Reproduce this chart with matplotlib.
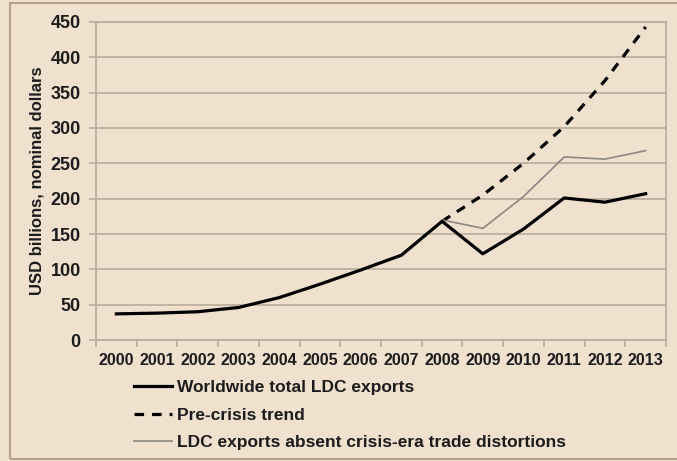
import matplotlib
matplotlib.use("Agg")
import matplotlib.pyplot as plt
from matplotlib.patches import Rectangle

plt.rcParams['font.family'] = ['Liberation Sans', 'DejaVu Sans']
plt.rcParams['font.weight'] = 'bold'

years = ['2000', '2001', '2002', '2003', '2004', '2005', '2006',
         '2007', '2008', '2009', '2010', '2011', '2012', '2013']
total_exports = [37, 38, 40, 46, 60, 79, 99, 120, 168, 122, 157, 201, 195, 207]
trend_years = ['2008', '2009', '2010', '2011', '2012', '2013']
pre_crisis = [168, 205, 250, 302, 367, 443]
absent_distortions = [170, 158, 203, 259, 256, 268]

bg = '#f0e1cf'
grid_col = '#b9ab9b'
txt = '#1c1c1c'

fig = plt.figure(figsize=(6.77, 4.61), dpi=100, facecolor=bg)
ax = fig.add_axes([96/677, 1 - 340/461, 570/677, 318/461], facecolor=bg)

# outer frame around the whole chart
fig.patches.append(Rectangle((10/677, 2/461), 1.2, 456/461, transform=fig.transFigure,
                             fill=False, edgecolor='#b3a390', linewidth=1.5))

x = list(range(len(years)))
xt = [years.index(y) for y in trend_years]

ax.plot(xt, pre_crisis, color='black', lw=2.3, ls=(0, (3, 2.5)),
        label='Pre-crisis trend', zorder=3)
ax.plot(xt, absent_distortions, color='#8c8782', lw=1.2,
        label='LDC exports absent crisis-era trade distortions', zorder=3)
ax.plot(x, total_exports, color='black', lw=2.3,
        label='Worldwide total LDC exports', zorder=4)

ax.set_xlim(-0.5, len(years) - 0.5)
ax.set_ylim(0, 450)
ax.set_yticks(range(0, 451, 50))
ax.set_xticks(x)
ax.set_xticklabels(years)
ax.set_xticks([i - 0.5 for i in range(len(years) + 1)], minor=True)
ax.tick_params(axis='x', which='major', length=0, pad=9, labelsize=11.5, labelcolor=txt)
ax.tick_params(axis='x', which='minor', length=5, color=grid_col, width=1.2)
ax.tick_params(axis='y', length=5, color=grid_col, width=1.2, pad=6, labelsize=13, labelcolor=txt)
ax.grid(axis='y', color=grid_col, lw=1.2)
ax.set_axisbelow(True)
for s in ax.spines.values():
    s.set_color(grid_col)
    s.set_linewidth(1.2)

ax.set_ylabel('USD billions, nominal dollars', fontsize=12, fontweight='bold',
              color=txt, labelpad=4)

h, l = ax.get_legend_handles_labels()
order = [2, 0, 1]
leg = fig.legend([h[i] for i in order], [l[i] for i in order], loc='upper left',
                 bbox_to_anchor=(134/677, 1 - 380/461), frameon=False, fontsize=12.5,
                 handlelength=2.2, handletextpad=0.3, labelspacing=0.72,
                 borderaxespad=0, borderpad=0)
for t in leg.get_texts():
    t.set_color(txt)

fig.savefig('out.png', dpi=100, facecolor=bg)
